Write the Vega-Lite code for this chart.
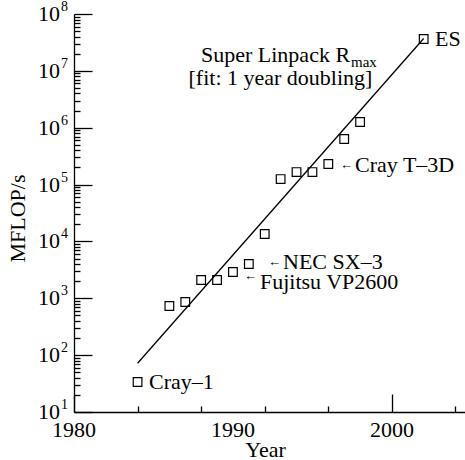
{
  "$schema": "https://vega.github.io/schema/vega-lite/v6.json",
  "autosize": "none",
  "padding": {"left": 74, "top": 14, "right": 0, "bottom": 48},
  "width": 391,
  "height": 398,
  "background": "white",
  "config": {"view": {"stroke": null}, "font": "Liberation Serif, Times New Roman, serif"},
  "datasets": {
    "machines": [
      {"year": 1984, "mflops": 33.7, "name": "Cray-1"},
      {"year": 1986, "mflops": 733, "name": ""},
      {"year": 1987, "mflops": 861, "name": ""},
      {"year": 1988, "mflops": 2100, "name": ""},
      {"year": 1989, "mflops": 2100, "name": ""},
      {"year": 1990, "mflops": 2900, "name": "Fujitsu VP2600"},
      {"year": 1991, "mflops": 4010, "name": "NEC SX-3"},
      {"year": 1992, "mflops": 13500, "name": ""},
      {"year": 1993, "mflops": 125000, "name": ""},
      {"year": 1994, "mflops": 166000, "name": ""},
      {"year": 1995, "mflops": 166000, "name": ""},
      {"year": 1996, "mflops": 230000, "name": "Cray T-3D"},
      {"year": 1997, "mflops": 634000, "name": ""},
      {"year": 1998, "mflops": 1260000, "name": ""},
      {"year": 2002, "mflops": 36300000, "name": "ES"}
    ],
    "fit": [
      {"year": 1984, "mflops": 72},
      {"year": 2002, "mflops": 37000000}
    ],
    "decades": [
      {"mflops": 10, "exp": "1"},
      {"mflops": 100, "exp": "2"},
      {"mflops": 1000, "exp": "3"},
      {"mflops": 10000, "exp": "4"},
      {"mflops": 100000, "exp": "5"},
      {"mflops": 1000000, "exp": "6"},
      {"mflops": 10000000, "exp": "7"},
      {"mflops": 100000000, "exp": "8"}
    ],
    "years": [
      {"year": 1980, "text": "1980"},
      {"year": 1990, "text": "1990"},
      {"year": 2000, "text": "2000"}
    ],
    "notes": [
      {"kind": "label", "year": 1984.72, "mflops": 33.7, "text": "Cray–1"},
      {"kind": "label", "year": 2002.71, "mflops": 36300000, "text": "ES"},
      {"kind": "label", "year": 1997.68, "mflops": 221000, "text": "Cray T–3D"},
      {"kind": "label", "year": 1993.15, "mflops": 4345, "text": "NEC SX–3"},
      {"kind": "label", "year": 1991.70, "mflops": 1932, "text": "Fujitsu VP2600"},
      {"kind": "arrow", "year": 1996.74, "mflops": 221000, "text": "←"},
      {"kind": "arrow", "year": 1992.21, "mflops": 4345, "text": "←"},
      {"kind": "arrow", "year": 1990.70, "mflops": 2466, "text": "←"},
      {"kind": "title", "year": 1997.37, "mflops": 19000000, "text": "Super Linpack R"},
      {"kind": "sub", "year": 1997.43, "mflops": 14300000, "text": "max"},
      {"kind": "fit", "year": 1992.99, "mflops": 7490000, "text": "[fit: 1 year doubling]"}
    ]
  },
  "layer": [
    {
      "data": {"name": "fit"},
      "mark": {"type": "line", "color": "black", "strokeWidth": 1.3},
      "encoding": {
        "x": {
          "field": "year", "type": "quantitative",
          "scale": {"domain": [1980, 2004.6], "nice": false, "zero": false},
          "axis": {
            "values": [1980, 1982, 1984, 1986, 1988, 1990, 1992, 1994, 1996, 1998, 2000, 2002, 2004],
            "labels": false,
            "tickSize": {"condition": {"test": "abs(datum.value - 1980) < 0.5 || abs(datum.value - 1990) < 0.5 || abs(datum.value - 2000) < 0.5", "value": -18}, "value": -6},
            "tickColor": "black", "tickWidth": 1.3,
            "domainColor": "black", "domainWidth": 1.3,
            "grid": false,
            "title": "Year", "titleFont": "Liberation Serif, Times New Roman, serif", "titleFontSize": 22,
            "titleFontWeight": "normal", "titleColor": "black",
            "titleX": 191, "titleY": 44, "titleBaseline": "alphabetic"
          }
        },
        "y": {
          "field": "mflops", "type": "quantitative",
          "scale": {"type": "log", "domain": [10, 100000000], "nice": false},
          "axis": {
            "values": [10, 20, 30, 40, 50, 60, 70, 80, 90, 100, 200, 300, 400, 500, 600, 700, 800, 900, 1000, 2000, 3000, 4000, 5000, 6000, 7000, 8000, 9000, 10000, 20000, 30000, 40000, 50000, 60000, 70000, 80000, 90000, 100000, 200000, 300000, 400000, 500000, 600000, 700000, 800000, 900000, 1000000, 2000000, 3000000, 4000000, 5000000, 6000000, 7000000, 8000000, 9000000, 10000000, 20000000, 30000000, 40000000, 50000000, 60000000, 70000000, 80000000, 90000000, 100000000],
            "labels": false,
            "tickSize": {"condition": {"test": "indexof([10,100,1000,10000,100000,1000000,10000000,100000000], datum.value) >= 0", "value": -18}, "value": -6},
            "tickColor": "black", "tickWidth": 1.3,
            "domainColor": "black", "domainWidth": 1.3,
            "grid": false,
            "title": "MFLOP/s", "titleFont": "Liberation Serif, Times New Roman, serif", "titleFontSize": 22,
            "titleFontWeight": "normal", "titleColor": "black",
            "titleAngle": -90, "titleX": -56.5, "titleY": 204,
            "titleBaseline": "middle", "titleAlign": "center"
          }
        }
      }
    },
    {
      "data": {"name": "machines"},
      "mark": {"type": "point", "shape": "square", "filled": false, "size": 75, "stroke": "black", "strokeWidth": 1.2, "opacity": 1},
      "encoding": {
        "x": {"field": "year", "type": "quantitative"},
        "y": {"field": "mflops", "type": "quantitative"}
      }
    },
    {
      "data": {"name": "notes"},
      "transform": [{"filter": "datum.kind === 'label'"}],
      "mark": {"type": "text", "align": "left", "baseline": "middle", "font": "Liberation Serif, Times New Roman, serif", "fontSize": 22, "color": "black"},
      "encoding": {
        "x": {"field": "year", "type": "quantitative"},
        "y": {"field": "mflops", "type": "quantitative"},
        "text": {"field": "text"}
      }
    },
    {
      "data": {"name": "notes"},
      "transform": [{"filter": "datum.kind === 'arrow'"}],
      "mark": {"type": "text", "align": "left", "baseline": "middle", "font": "Liberation Serif, Times New Roman, serif", "fontSize": 13, "color": "black"},
      "encoding": {
        "x": {"field": "year", "type": "quantitative"},
        "y": {"field": "mflops", "type": "quantitative"},
        "text": {"field": "text"}
      }
    },
    {
      "data": {"name": "notes"},
      "transform": [{"filter": "datum.kind === 'title'"}],
      "mark": {"type": "text", "align": "right", "baseline": "middle", "font": "Liberation Serif, Times New Roman, serif", "fontSize": 22, "color": "black"},
      "encoding": {
        "x": {"field": "year", "type": "quantitative"},
        "y": {"field": "mflops", "type": "quantitative"},
        "text": {"field": "text"}
      }
    },
    {
      "data": {"name": "notes"},
      "transform": [{"filter": "datum.kind === 'sub'"}],
      "mark": {"type": "text", "align": "left", "baseline": "middle", "font": "Liberation Serif, Times New Roman, serif", "fontSize": 15, "color": "black"},
      "encoding": {
        "x": {"field": "year", "type": "quantitative"},
        "y": {"field": "mflops", "type": "quantitative"},
        "text": {"field": "text"}
      }
    },
    {
      "data": {"name": "notes"},
      "transform": [{"filter": "datum.kind === 'fit'"}],
      "mark": {"type": "text", "align": "center", "baseline": "middle", "font": "Liberation Serif, Times New Roman, serif", "fontSize": 22, "color": "black"},
      "encoding": {
        "x": {"field": "year", "type": "quantitative"},
        "y": {"field": "mflops", "type": "quantitative"},
        "text": {"field": "text"}
      }
    },
    {
      "data": {"name": "decades"},
      "mark": {"type": "text", "align": "right", "baseline": "middle", "dx": -14, "font": "Liberation Serif, Times New Roman, serif", "fontSize": 22, "color": "black"},
      "encoding": {
        "x": {"datum": 1980},
        "y": {"field": "mflops", "type": "quantitative"},
        "text": {"value": "10"}
      }
    },
    {
      "data": {"name": "decades"},
      "mark": {"type": "text", "align": "left", "baseline": "middle", "dx": -13, "dy": -7, "font": "Liberation Serif, Times New Roman, serif", "fontSize": 14, "color": "black"},
      "encoding": {
        "x": {"datum": 1980},
        "y": {"field": "mflops", "type": "quantitative"},
        "text": {"field": "exp"}
      }
    },
    {
      "data": {"name": "years"},
      "mark": {"type": "text", "align": "center", "baseline": "middle", "dy": 18, "font": "Liberation Serif, Times New Roman, serif", "fontSize": 22, "color": "black"},
      "encoding": {
        "x": {"field": "year", "type": "quantitative"},
        "y": {"datum": 10},
        "text": {"field": "text"}
      }
    }
  ]
}
